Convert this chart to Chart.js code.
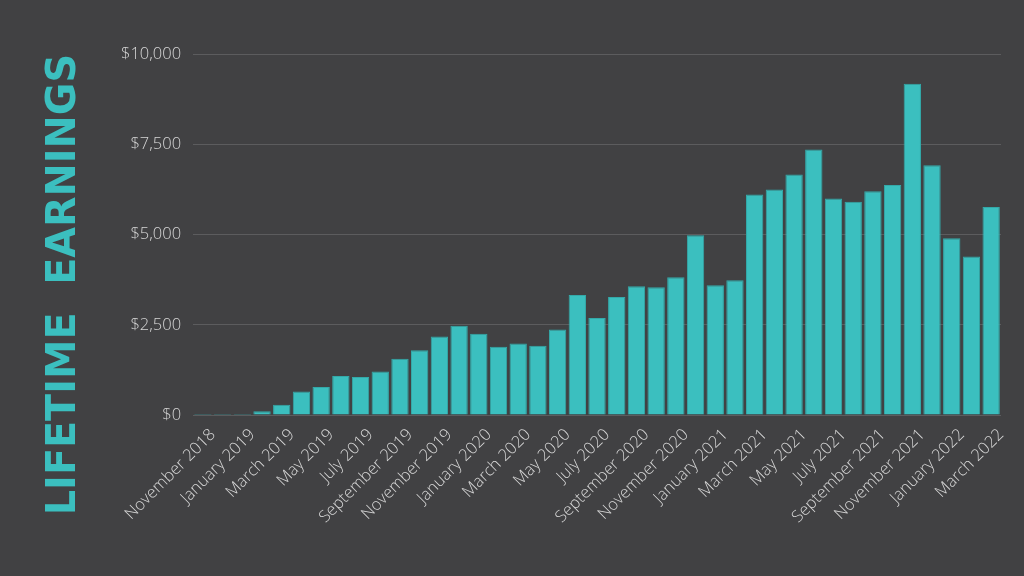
<!DOCTYPE html>
<html>
<head>
<meta charset="utf-8">
<script src="https://cdn.jsdelivr.net/npm/chart.js@4"></script>
<style>
  html, body { margin: 0; padding: 0; background: #414143; }
  #wrap { width: 1024px; height: 576px; }
</style>
</head>
<body>
<div id="wrap"><canvas id="earnings" width="1024" height="576"></canvas></div>
<script>
// months, Nov 2018 .. Mar 2022
var months = [
  'November 2018', 'December 2018',
  'January 2019', 'February 2019', 'March 2019', 'April 2019', 'May 2019', 'June 2019',
  'July 2019', 'August 2019', 'September 2019', 'October 2019', 'November 2019', 'December 2019',
  'January 2020', 'February 2020', 'March 2020', 'April 2020', 'May 2020', 'June 2020',
  'July 2020', 'August 2020', 'September 2020', 'October 2020', 'November 2020', 'December 2020',
  'January 2021', 'February 2021', 'March 2021', 'April 2021', 'May 2021', 'June 2021',
  'July 2021', 'August 2021', 'September 2021', 'October 2021', 'November 2021', 'December 2021',
  'January 2022', 'February 2022', 'March 2022'
];

var earnings = [
  30, 30,
  30, 110, 290, 655, 775, 1080, 1055, 1210, 1560, 1795, 2180, 2475,
  2255, 1895, 1985, 1920, 2370, 3325, 2690, 3270, 3565, 3540, 3815, 4980,
  3595, 3735, 6110, 6250, 6665, 7355, 6000, 5905, 6200, 6370, 9175, 6920,
  4900, 4390, 5760
];

var yTicks = [0, 2500, 5000, 7500, 10000];

var teal = '#3bbfbf';

const data = {
  labels: months,
  datasets: [{
    label: 'Earnings',
    data: earnings,
    backgroundColor: teal,
    borderColor: '#33a9a9',
    borderWidth: 1,
    categoryPercentage: 1.0,
    barPercentage: 0.88
  }]
};

const config = {
  type: 'bar',
  data: data,
  options: {
    responsive: false,
    animation: false,
    layout: { padding: { left: 41, right: 23, top: 54, bottom: 47 } },
    plugins: {
      legend: { display: false },
      tooltip: { enabled: false },
      title: {
        display: true,
        position: 'left',
        // leading space nudges the title up a little
        text: ' LIFETIME  EARNINGS',
        color: teal,
        font: { family: 'DejaVu Sans', size: 40, weight: 'bold' },
        padding: { top: 0, bottom: 20 }
      }
    },
    scales: {
      x: {
        grid: { display: false },
        border: { display: false },
        ticks: {
          color: '#d6d6d6',
          font: { family: 'Open Sans', size: 16.5, weight: 300 },
          minRotation: 45,
          maxRotation: 45,
          autoSkip: false,
          padding: 2,
          labelOffset: 10,
          // every second month gets a label
          callback: function (val, i) { return i % 2 === 0 ? months[i] : ''; }
        }
      },
      y: {
        min: 0,
        max: 10000,
        afterBuildTicks: function (axis) {
          axis.ticks = yTicks.map(function (v) { return { value: v }; });
        },
        grid: { color: '#5c5c5e', lineWidth: 1, drawTicks: false },
        border: { display: false },
        ticks: {
          color: '#d6d6d6',
          font: { family: 'Open Sans', size: 16.5, weight: 300 },
          padding: 12,
          callback: function (v) { return '$' + v.toLocaleString('en-US'); }
        }
      }
    }
  }
};

new Chart(document.getElementById('earnings'), config);
</script>
</body>
</html>
